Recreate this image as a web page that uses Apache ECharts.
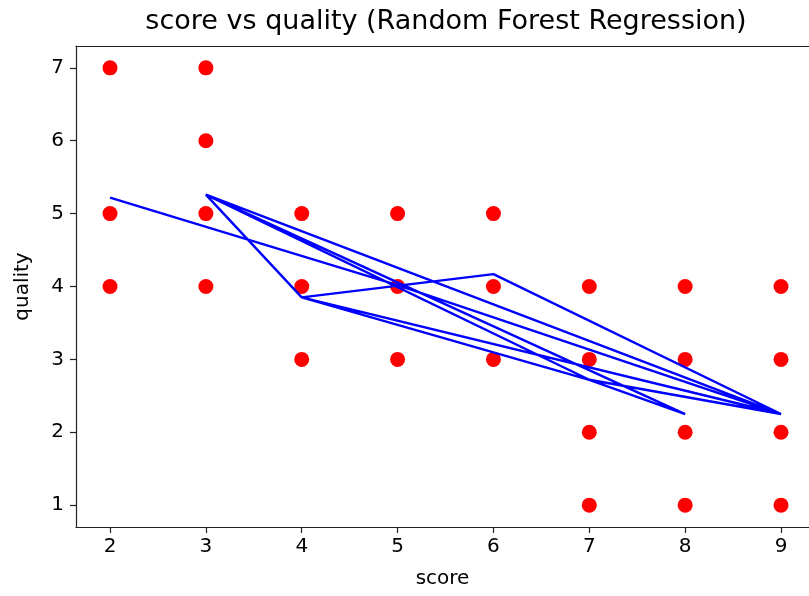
<!DOCTYPE html>
<html>
<head>
<meta charset="utf-8">
<script src="https://cdn.jsdelivr.net/npm/echarts@6/dist/echarts.min.js"></script>
<style>html,body{margin:0;padding:0;background:#fff;}#c{width:809px;height:596px;}</style>
</head>
<body>
<div id="c"></div>
<script>
// Observed data (red points)
var scoreValues   = [2, 2, 2, 3, 3, 3, 3, 4, 4, 4, 5, 5, 5, 6, 6, 6, 7, 7, 7, 7, 8, 8, 8, 8, 9, 9, 9, 9];
var qualityValues = [7, 5, 4, 7, 6, 5, 4, 5, 4, 3, 5, 4, 3, 5, 4, 3, 4, 3, 2, 1, 4, 3, 2, 1, 4, 3, 2, 1];
// Test set order and Random Forest predictions (blue line)
var testScore   = [2, 5, 9, 3, 4, 6, 9, 4, 7, 9, 3, 8, 7, 3, 9];
var predQuality = [5.22, 4.02, 2.25, 5.26, 3.85, 4.17, 2.25, 3.85, 2.72, 2.25, 5.26, 2.25, 2.72, 5.26, 2.25];
// Tick labels
var xTicks = [2, 3, 4, 5, 6, 7, 8, 9];
var yTicks = [1, 2, 3, 4, 5, 6, 7];

var scatterData = scoreValues.map(function (s, i) { return [s, qualityValues[i]]; });
var lineData = testScore.map(function (s, i) { return [s, predQuality[i]]; });

var FONT = 'DejaVu Sans';
var AX = '#222';
var chart = echarts.init(document.getElementById('c'), null, { renderer: 'canvas' });
chart.setOption({
  animation: false,
  backgroundColor: '#ffffff',
  title: {
    text: 'score vs quality (Random Forest Regression)',
    left: 441, top: 3, textAlign: 'center',
    textStyle: { fontFamily: FONT, fontSize: 27, fontWeight: 'normal', color: '#000' }
  },
  grid: {
    left: 76, right: 0, top: 46, bottom: 69, show: false
  },
  xAxis: [{
    type: 'value', min: 1.645, max: 9.292,
    name: 'score', nameLocation: 'middle', nameGap: 42,
    nameTextStyle: { fontFamily: FONT, fontSize: 20, color: '#000' },
    axisLine: { show: true, onZero: false, lineStyle: { color: AX, width: 1.2 } },
    axisTick: { show: true, customValues: xTicks, length: 6, lineStyle: { color: AX, width: 1.2 } },
    axisLabel: { customValues: xTicks, margin: 10, fontFamily: FONT, fontSize: 20, color: '#000' },
    splitLine: { show: false }
  }, {
    type: 'value', position: 'top', min: 1.645, max: 9.292,
    axisLine: { show: true, onZero: false, lineStyle: { color: AX, width: 1.2 } },
    axisTick: { show: false }, axisLabel: { show: false }, splitLine: { show: false }
  }],
  yAxis: {
    type: 'value', min: 0.7, max: 7.3,
    name: 'quality', nameLocation: 'middle', nameGap: 43, nameRotate: 90,
    nameTextStyle: { fontFamily: FONT, fontSize: 20, color: '#000' },
    axisLine: { show: true, onZero: false, lineStyle: { color: AX, width: 1.2 } },
    axisTick: { show: true, customValues: yTicks, length: 6, lineStyle: { color: AX, width: 1.2 } },
    axisLabel: { customValues: yTicks, margin: 12, fontFamily: FONT, fontSize: 20, color: '#000' },
    splitLine: { show: false }
  },
  series: [
    {
      type: 'scatter', data: scatterData, symbol: 'circle', symbolSize: 15,
      itemStyle: { color: '#ff0000', opacity: 1 }, z: 2
    },
    {
      type: 'line', data: lineData, showSymbol: false, symbol: 'none',
      lineStyle: { color: '#0000ff', width: 2.4 }, z: 3
    }
  ]
});
</script>
</body>
</html>
